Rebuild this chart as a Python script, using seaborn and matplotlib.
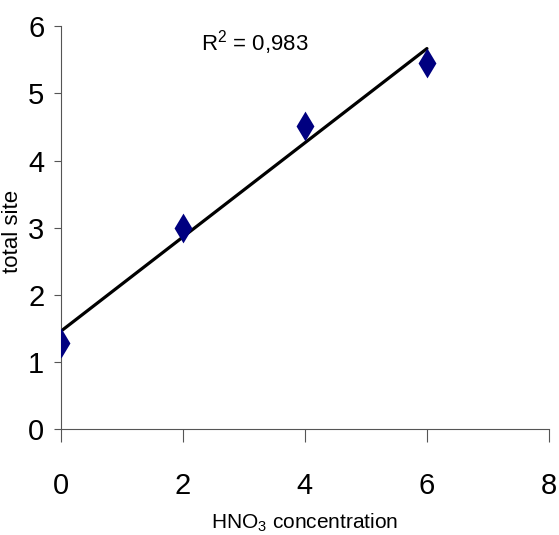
import matplotlib
matplotlib.use("Agg")
import matplotlib.pyplot as plt
import seaborn as sns
import pandas as pd

concentration = [0, 2, 4, 6]
total_site = [1.28, 3.0, 4.52, 5.45]
x_ticks = [0, 2, 4, 6, 8]
y_ticks = [0, 1, 2, 3, 4, 5, 6]
r2_label = "R$^2$ = 0,983"

df = pd.DataFrame({"conc": concentration, "site": total_site})

sns.set_style("white")
plt.rcParams['font.family'] = ['Liberation Sans', 'DejaVu Sans']
plt.rcParams['mathtext.default'] = 'regular'
plt.rcParams['text.color'] = 'black'
plt.rcParams['axes.labelcolor'] = 'black'

fig = plt.figure(figsize=(5.59, 5.35), dpi=100)
ax = fig.add_axes([0.109, 0.198, 0.873, 0.753])

sns.regplot(data=df, x="conc", y="site", ci=None, scatter=False, ax=ax,
            line_kws=dict(color="black", lw=2.3))
sns.scatterplot(data=df, x="conc", y="site", marker="d", s=230, color="#000080",
                edgecolor="#000080", linewidth=0, ax=ax, zorder=3)

ax.set_xlim(0, 8)
ax.set_ylim(0, 6)
ax.set_xticks(x_ticks)
ax.set_yticks(y_ticks)
for s in ["top", "right"]:
    ax.spines[s].set_visible(False)
for s in ["left", "bottom"]:
    ax.spines[s].set_color("#555555")
    ax.spines[s].set_linewidth(0.8)
ax.tick_params(axis="x", direction="out", length=9, width=0.8, color="#555555",
               pad=22, labelsize=21, bottom=True, labelcolor="black")
ax.tick_params(axis="y", direction="out", length=5, width=0.8, color="#555555",
               pad=7, labelsize=21, left=True, labelcolor="black")

ax.set_xlabel("HNO$_3$ concentration", fontsize=15)
ax.xaxis.set_label_coords(0.5, -0.205)
ax.set_ylabel("total site", fontsize=16)
ax.yaxis.set_label_coords(-0.078, 0.49)

ax.text(3.18, 5.76, r2_label, fontsize=16, ha="center", va="center")

fig.savefig("out.png", dpi=100)
